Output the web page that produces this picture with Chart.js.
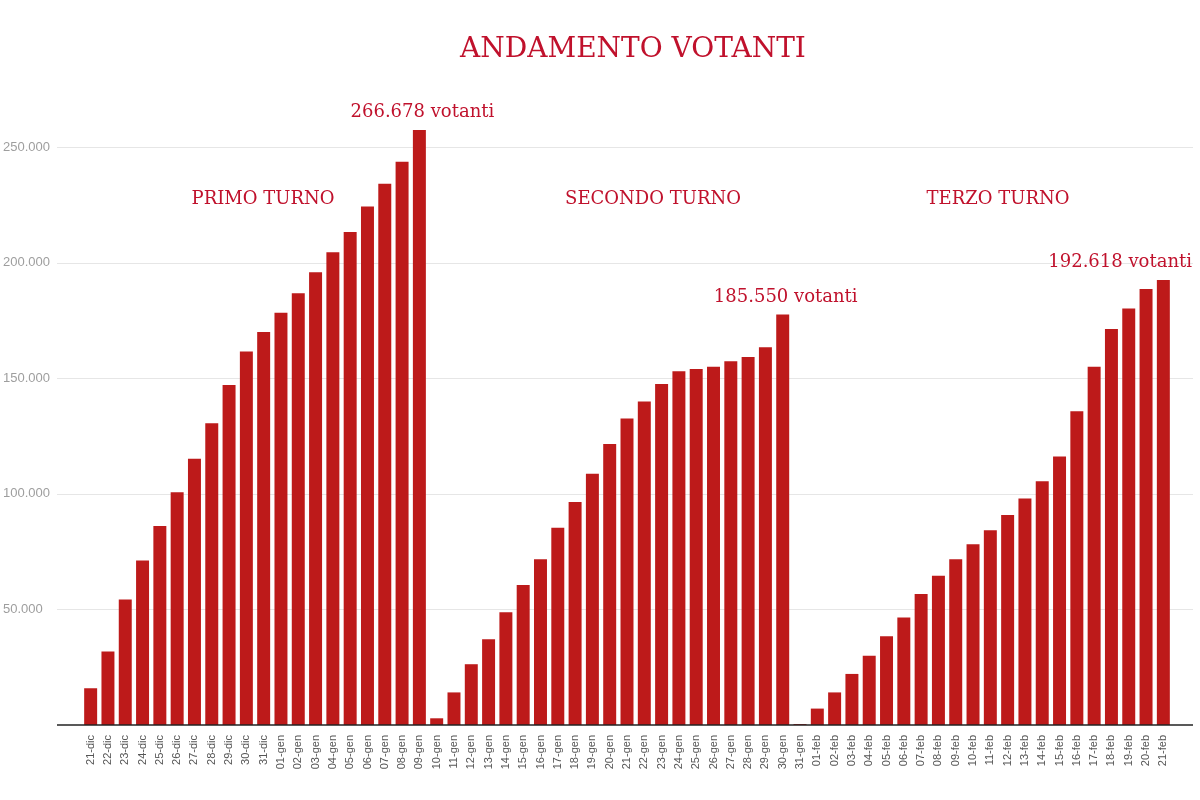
<!DOCTYPE html>
<html lang="it">
<head>
<meta charset="utf-8">
<title>Andamento votanti</title>
<script src="https://cdn.jsdelivr.net/npm/chart.js@4.4.1/dist/chart.umd.min.js"></script>
<style>
  html, body { margin: 0; padding: 0; background: #fff; }
  #wrap { position: relative; width: 1200px; height: 800px; }
</style>
</head>
<body>
<div id="wrap"><canvas id="chart"></canvas></div>
<script>
// ── dati ──────────────────────────────────────────────────────────
const GIORNI = [
  '21-dic', '22-dic', '23-dic', '24-dic', '25-dic', '26-dic', '27-dic', '28-dic', '29-dic', '30-dic', '31-dic',
  '01-gen', '02-gen', '03-gen', '04-gen', '05-gen', '06-gen', '07-gen', '08-gen', '09-gen', '10-gen',
  '11-gen', '12-gen', '13-gen', '14-gen', '15-gen', '16-gen', '17-gen', '18-gen', '19-gen', '20-gen',
  '21-gen', '22-gen', '23-gen', '24-gen', '25-gen', '26-gen', '27-gen', '28-gen', '29-gen', '30-gen', '31-gen',
  '01-feb', '02-feb', '03-feb', '04-feb', '05-feb', '06-feb', '07-feb', '08-feb', '09-feb', '10-feb',
  '11-feb', '12-feb', '13-feb', '14-feb', '15-feb', '16-feb', '17-feb', '18-feb', '19-feb', '20-feb', '21-feb',
];
// 21-dic → 09-gen
const PRIMO = [15900, 31800, 54300, 71200, 86100, 100700, 115200, 130600, 147100, 161600,
  170000, 178400, 186800, 195900, 204600, 213300, 224300, 234200, 243700, 257500];
// 10-gen → 30-gen
const SECONDO = [2900, 14100, 26300, 37100, 48800, 60600, 71700, 85300, 96500, 108700, 121600,
  132600, 140000, 147500, 153100, 154000, 155000, 157400, 159200, 163500, 177600];
// 31-gen → 21-feb
const TERZO = [400, 7100, 14100, 22100, 30000, 38400, 46500, 56700, 64600, 71700, 78200,
  84300, 90900, 98000, 105500, 116200, 135800, 155000, 171400, 180200, 188700, 192500];
const VOTANTI = [...PRIMO, ...SECONDO, ...TERZO];

const Y_TICKS = [0, 50000, 100000, 150000, 200000, 250000];
const TURNI = ['PRIMO TURNO', 'SECONDO TURNO', 'TERZO TURNO'];
const TOTALI = ['266.678 votanti', '185.550 votanti', '192.618 votanti'];
const TITOLO = 'ANDAMENTO VOTANTI';

// ── stile ────────────────────────────────────────────────────────
const BAR = '#bd1a1a', TXT = '#c0112c';
const SERIF = '"DejaVu Serif", "Liberation Serif", serif';
const SANS = 'Arial, "Liberation Sans", sans-serif';

const fmt = (v) => String(v).replace(/\B(?=(\d{3})+(?!\d))/g, '.');

// griglia lunga (da x=57 a 1193), asse nero, titolo e scritte rosse
const decor = {
  id: 'decor',
  beforeDatasetsDraw(chart) {
    const { ctx, scales: { y } } = chart;
    ctx.save();
    ctx.strokeStyle = '#e6e6e6';
    ctx.lineWidth = 1;
    y.ticks.forEach((t) => {
      if (t.value <= 0) return;
      const py = Math.round(y.getPixelForValue(t.value)) + 0.5;
      ctx.beginPath(); ctx.moveTo(57, py); ctx.lineTo(1193, py); ctx.stroke();
    });
    ctx.restore();
  },
  afterDatasetsDraw(chart) {
    const { ctx, scales: { x, y } } = chart;
    ctx.save();
    // asse orizzontale
    const y0 = Math.round(y.getPixelForValue(0));
    ctx.strokeStyle = '#222';
    ctx.lineWidth = 1.5;
    ctx.beginPath(); ctx.moveTo(57, y0); ctx.lineTo(1193, y0); ctx.stroke();

    ctx.fillStyle = TXT;
    ctx.textAlign = 'center';
    ctx.textBaseline = 'alphabetic';
    ctx.font = '28px ' + SERIF;
    ctx.fillText(TITOLO, 633, 57);

    ctx.font = '18px ' + SERIF;
    const turnoX = [263, 653, 998];
    TURNI.forEach((t, i) => ctx.fillText(t, turnoX[i], 204));

    // totale sopra l'ultima barra di ogni turno
    const ends = [PRIMO.length - 1, PRIMO.length + SECONDO.length - 1, VOTANTI.length - 1];
    ends.forEach((idx, i) => {
      const w = ctx.measureText(TOTALI[i]).width;
      let cx = x.getPixelForValue(idx) + 3;
      cx = Math.min(cx, 1192 - w / 2);
      ctx.fillText(TOTALI[i], cx, y.getPixelForValue(VOTANTI[idx]) - 13);
    });
    ctx.restore();
  },
};

new Chart(document.getElementById('chart'), {
  type: 'bar',
  data: {
    labels: GIORNI,
    datasets: [{
      data: VOTANTI,
      backgroundColor: BAR,
      borderWidth: 0,
      barPercentage: 0.75,
      categoryPercentage: 1,
    }],
  },
  options: {
    responsive: true,
    maintainAspectRatio: false,
    animation: false,
    layout: { padding: { top: 101, left: 3, right: 28, bottom: 0 } },
    plugins: { legend: { display: false }, tooltip: { enabled: false } },
    scales: {
      x: {
        grid: { display: false, drawTicks: false },
        border: { display: false },
        afterFit: (s) => { s.height = 75; },
        ticks: {
          autoSkip: false, maxRotation: 90, minRotation: 90, padding: 10,
          color: '#555', font: { family: SANS, size: 11 },
        },
      },
      y: {
        min: 0, max: 270000,
        grid: { display: false, drawTicks: false },
        border: { display: false },
        afterFit: (s) => { s.width = 79; },
        afterBuildTicks: (s) => { s.ticks = Y_TICKS.map((v) => ({ value: v })); },
        ticks: {
          crossAlign: 'far', padding: 0,
          color: '#9e9e9e', font: { family: SANS, size: 13 },
          callback: (v) => (v > 0 ? fmt(v) : ''),
        },
      },
    },
  },
  plugins: [decor],
});
</script>
</body>
</html>
